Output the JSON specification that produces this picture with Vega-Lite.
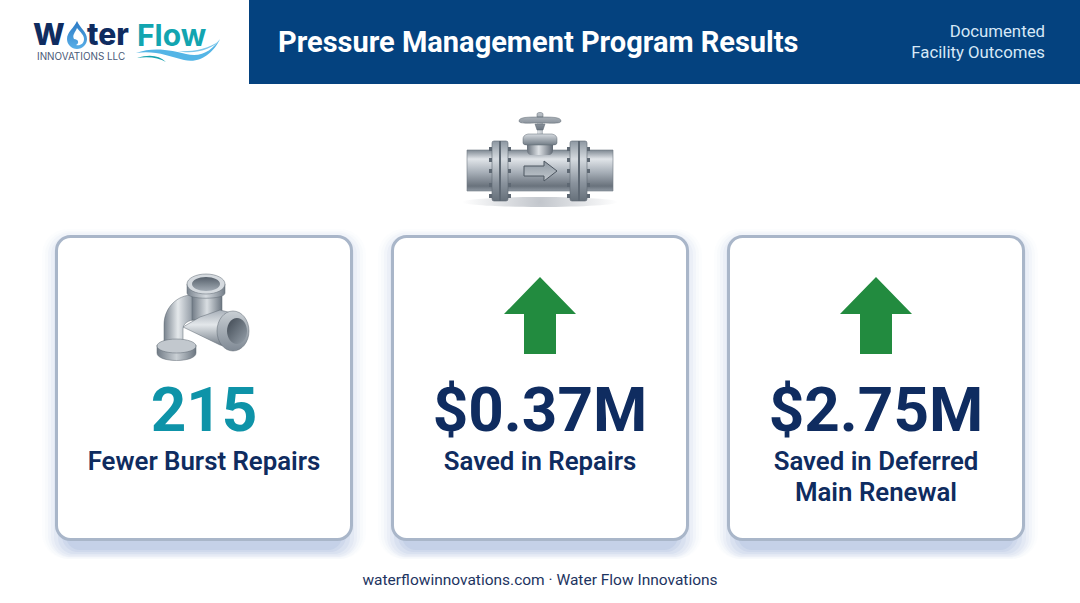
{
  "$schema": "https://vega.github.io/schema/vega-lite/v6.json",
  "width": 1080,
  "height": 603,
  "autosize": {"type": "fit", "contains": "padding"},
  "padding": 0,
  "background": "#ffffff",
  "view": {"stroke": null},
  "datasets": {
    "cards": [
      {"col": "left", "slot": "body", "label": "215", "metric": "count"},
      {"col": "centre", "slot": "body", "label": "$0.37M", "metric": "savings"},
      {"col": "right", "slot": "body", "label": "$2.75M", "metric": "savings"}
    ],
    "captions": [
      {"col": "left", "slot": "body", "label": "Fewer Burst Repairs"},
      {"col": "centre", "slot": "body", "label": "Saved in Repairs"},
      {"col": "right", "slot": "body", "label": "Saved in Deferred\nMain Renewal"}
    ],
    "arrows": [
      {"col": "centre", "slot": "icon", "direction": "up"},
      {"col": "right", "slot": "icon", "direction": "up"}
    ],
    "fitting": [{"col": "left", "slot": "icon"}],
    "valve": [{"col": "centre", "slot": "valve"}],
    "band": [{"col": "centre", "slot": "header"}],
    "logo": [{"col": "left", "slot": "header"}],
    "title": [{"col": "left", "slot": "header", "label": "Pressure Management Program Results"}],
    "note": [{"col": "right", "slot": "header", "label": "Documented\nFacility Outcomes"}],
    "footer": [{"col": "centre", "slot": "footer", "label": "waterflowinnovations.com · Water Flow Innovations"}]
  },
  "encoding": {
    "x": {"field": "col", "type": "nominal", "axis": null, "scale": {"type": "point", "domain": ["left", "centre", "right"], "range": [204, 876], "padding": 0}},
    "y": {"field": "slot", "type": "nominal", "axis": null, "scale": {"type": "point", "domain": ["header", "valve", "icon", "body", "footer"], "range": [5, 625], "padding": 0}}
  },
  "layer": [
    {"data": {"name": "band"}, "mark": {"type": "rect", "width": 831, "height": 84, "xOffset": 124.5, "yOffset": 37, "fill": "#04427F"}},

    {"data": {"name": "logo"}, "mark": {"type": "text", "text": "W", "font": "Inter", "fontWeight": 800, "fontSize": 30, "align": "left", "baseline": "alphabetic", "dx": -171, "dy": 40, "fill": "#0F2C60"}},
    {"data": {"name": "logo"}, "mark": {"type": "text", "text": "ter", "font": "Inter", "fontWeight": 800, "fontSize": 30, "align": "left", "baseline": "alphabetic", "dx": -117, "dy": 40, "fill": "#0F2C60"}},
    {"data": {"name": "logo"}, "mark": {"type": "text", "text": "Flow", "font": "Inter", "fontWeight": 700, "fontSize": 30, "align": "left", "baseline": "alphabetic", "dx": -67, "dy": 41, "fill": "#12A5B0"}},
    {"data": {"name": "logo"}, "mark": {"type": "text", "text": "INNOVATIONS LLC", "font": "Inter", "fontSize": 9.9, "align": "left", "baseline": "alphabetic", "dx": -167, "dy": 55, "fill": "#4A5A78"}},
    {"data": {"name": "logo"}, "mark": {"type": "point", "filled": true, "opacity": 1, "size": 4, "strokeWidth": 0,
      "shape": "M-127,16 C-124,23 -117,27 -117,34 A10,10 0 1,1 -137,34 C-137,27 -130,23 -127,16Z",
      "fill": {"gradient": "linear", "x1": 0, "y1": 0, "x2": 0, "y2": 1, "stops": [{"offset": 0, "color": "#2B79C4"}, {"offset": 1, "color": "#5AB0E8"}]}}},
    {"data": {"name": "logo"}, "mark": {"type": "point", "filled": true, "opacity": 1, "size": 4, "strokeWidth": 0, "fill": "#ffffff",
      "shape": "M-127,23 C-123,28 -120,30 -120,34 C-120,39 -124,41 -128,40 C-124,38 -126,34 -130,34 C-132,30 -129,28 -127,23Z"}},
    {"data": {"name": "logo"}, "mark": {"type": "point", "filled": true, "opacity": 1, "size": 4, "strokeWidth": 0, "fill": "#54B5E6",
      "shape": "M-68,48 C-50,41 -30,46 -18,49 C-2,53 8,45 16,34 C10,47 -3,59 -20,55 C-35,51 -50,45 -68,48Z"}},
    {"data": {"name": "logo"}, "mark": {"type": "point", "filled": true, "opacity": 1, "size": 4, "strokeWidth": 0, "fill": "#7CC6EA",
      "shape": "M-27,46 C-15,47 5,45 16,35 C8,44 -8,50 -27,46Z"}},
    {"data": {"name": "logo"}, "mark": {"type": "point", "filled": true, "opacity": 1, "size": 4, "strokeWidth": 0, "fill": "#18A3AE",
      "shape": "M-67,53 C-55,49 -45,50 -38,57 C-45,53 -55,51 -67,53Z"}},

    {"data": {"name": "title"}, "mark": {"type": "text", "font": "Roboto", "fontWeight": 700, "fontSize": 29, "align": "left", "baseline": "middle", "dx": 74, "dy": 38, "fill": "#ffffff"}, "encoding": {"text": {"field": "label"}}},
    {"data": {"name": "note"}, "mark": {"type": "text", "font": "Roboto", "fontWeight": 400, "fontSize": 16.8, "lineBreak": "\n", "lineHeight": 21, "align": "right", "baseline": "alphabetic", "dx": 169, "dy": 32, "fill": "#D6E8F7"}, "encoding": {"text": {"field": "label"}}},

    {"data": {"name": "valve"}, "mark": {"type": "point", "filled": true, "opacity": 1, "size": 4, "strokeWidth": 0,
      "shape": "M-78,42 A78,5 0 1,1 78,42 A78,5 0 1,1 -78,42Z",
      "fill": {"gradient": "radial", "stops": [{"offset": 0, "color": "#C2C6CC"}, {"offset": 1, "color": "#ffffff"}]}}},
    {"data": {"name": "valve"}, "mark": {"type": "point", "filled": true, "opacity": 1, "size": 4, "stroke": "#6E7883", "strokeWidth": 0.6,
      "shape": "M-73,-10 H73 V31 H-73Z",
      "fill": {"gradient": "linear", "x1": 0, "y1": 0, "x2": 0, "y2": 1, "stops": [{"offset": 0, "color": "#7D8791"}, {"offset": 0.22, "color": "#E1E5E9"}, {"offset": 0.55, "color": "#A6AEB7"}, {"offset": 0.88, "color": "#69727C"}, {"offset": 1, "color": "#8F98A2"}]}}},
    {"data": {"name": "valve"}, "mark": {"type": "point", "filled": true, "opacity": 1, "size": 4, "stroke": "#5F6873", "strokeWidth": 0.6,
      "shape": "M-48,-17 Q-48,-19 -46,-19 H-34 Q-32,-19 -32,-17 V39 Q-32,41 -34,41 H-46 Q-48,41 -48,39Z M30,-17 Q30,-19 32,-19 H45 Q47,-19 47,-17 V39 Q47,41 45,41 H32 Q30,41 30,39Z",
      "fill": {"gradient": "linear", "x1": 0, "y1": 0, "x2": 0, "y2": 1, "stops": [{"offset": 0, "color": "#8D97A1"}, {"offset": 0.3, "color": "#D5DADF"}, {"offset": 0.7, "color": "#8A939D"}, {"offset": 1, "color": "#66707A"}]}}},
    {"data": {"name": "valve"}, "mark": {"type": "point", "filled": true, "opacity": 1, "size": 4, "strokeWidth": 0, "fill": "#5E6873",
      "shape": "M-41,-19 h2 v60 h-2Z M38,-19 h2 v60 h-2Z M-51,-13 h3 v4 h-3Z M-51,-2 h3 v4 h-3Z M-51,9 h3 v4 h-3Z M-51,23 h3 v4 h-3Z M-51,34 h3 v4 h-3Z M-32,-13 h3 v4 h-3Z M-32,-2 h3 v4 h-3Z M-32,9 h3 v4 h-3Z M-32,23 h3 v4 h-3Z M-32,34 h3 v4 h-3Z M27,-13 h3 v4 h-3Z M27,-2 h3 v4 h-3Z M27,9 h3 v4 h-3Z M27,23 h3 v4 h-3Z M27,34 h3 v4 h-3Z M47,-13 h3 v4 h-3Z M47,-2 h3 v4 h-3Z M47,9 h3 v4 h-3Z M47,23 h3 v4 h-3Z M47,34 h3 v4 h-3Z"}},
    {"data": {"name": "valve"}, "mark": {"type": "point", "filled": true, "opacity": 1, "size": 4, "strokeWidth": 0,
      "shape": "M-13,-16 H13 V-10 C13,-6 10,-5 9,-5 H-9 C-10,-5 -13,-6 -13,-10Z M-3,-38 H3 V-24 H-3Z",
      "fill": {"gradient": "linear", "x1": 0, "y1": 0, "x2": 1, "y2": 0, "stops": [{"offset": 0, "color": "#69727C"}, {"offset": 0.45, "color": "#DDE1E5"}, {"offset": 1, "color": "#5F6873"}]}}},
    {"data": {"name": "valve"}, "mark": {"type": "point", "filled": true, "opacity": 1, "size": 4, "stroke": "#5F6873", "strokeWidth": 0.5,
      "shape": "M-17,-21 Q-17,-25 -12,-26 H12 Q17,-25 17,-21 V-17 Q17,-15 13,-15 H-13 Q-17,-15 -17,-17Z",
      "fill": {"gradient": "linear", "x1": 0, "y1": 0, "x2": 0, "y2": 1, "stops": [{"offset": 0, "color": "#D5DADF"}, {"offset": 1, "color": "#737D87"}]}}},
    {"data": {"name": "valve"}, "mark": {"type": "point", "filled": true, "opacity": 1, "size": 4, "stroke": "#5F6873", "strokeWidth": 0.5,
      "shape": "M-21,-39 C-21,-43 -12,-43 0,-43 C12,-43 21,-43 21,-39 C21,-36 12,-37 0,-37 C-12,-37 -21,-36 -21,-39Z M-3,-43 V-46 C-3,-48 3,-48 3,-46 V-43Z M-5,-36 H5 L3,-30 H-3Z",
      "fill": {"gradient": "linear", "x1": 0, "y1": 0, "x2": 0, "y2": 1, "stops": [{"offset": 0, "color": "#BFC5CB"}, {"offset": 1, "color": "#6C7681"}]}}},
    {"data": {"name": "valve"}, "mark": {"type": "point", "filled": true, "opacity": 1, "size": 4, "stroke": "#4D5660", "strokeWidth": 1,
      "shape": "M-16,6 H4 V1 L17,11 L4,21 V16 H-16Z",
      "fill": {"gradient": "linear", "x1": 0, "y1": 0, "x2": 0, "y2": 1, "stops": [{"offset": 0, "color": "#8E98A2"}, {"offset": 1, "color": "#C3C9CF"}]}}},

    {"data": {"name": "cards"}, "mark": {"type": "rect", "width": 324, "height": 330, "yOffset": -76, "cornerRadius": 26, "fill": "#A9BBDD", "opacity": 0.035}},
    {"data": {"name": "cards"}, "mark": {"type": "rect", "width": 318, "height": 328, "yOffset": -75, "cornerRadius": 24, "fill": "#A9BBDD", "opacity": 0.05}},
    {"data": {"name": "cards"}, "mark": {"type": "rect", "width": 312, "height": 325, "yOffset": -75, "cornerRadius": 22, "fill": "#A9BBDD", "opacity": 0.07}},
    {"data": {"name": "cards"}, "mark": {"type": "rect", "width": 306, "height": 322, "yOffset": -74, "cornerRadius": 20, "fill": "#A9BBDD", "opacity": 0.09}},
    {"data": {"name": "cards"}, "mark": {"type": "rect", "width": 300, "height": 319, "yOffset": -74, "cornerRadius": 18, "fill": "#A9BBDD", "opacity": 0.12}},
    {"data": {"name": "cards"}, "mark": {"type": "rect", "width": 292, "height": 316, "yOffset": -74, "cornerRadius": 16, "fill": "#A9BBDD", "opacity": 0.16}},
    {"data": {"name": "cards"}, "mark": {"type": "rect", "width": 284, "height": 312, "yOffset": -74, "cornerRadius": 16, "fill": "#A9BBDD", "opacity": 0.2}},
    {"data": {"name": "cards"}, "mark": {"type": "rect", "width": 276, "height": 308, "yOffset": -74, "cornerRadius": 14, "fill": "#A9BBDD", "opacity": 0.25}},
    {"data": {"name": "cards"}, "mark": {"type": "rect", "width": 295, "height": 303, "yOffset": -82, "cornerRadius": 14, "fill": "#ffffff", "stroke": "#A9B6C9", "strokeWidth": 3}},

    {"data": {"name": "fitting"}, "mark": {"type": "point", "filled": true, "opacity": 1, "size": 4, "stroke": "#5F6873", "strokeWidth": 0.5,
      "shape": "M-40,27 V10 C-40,-8 -26,-20 -12,-20 L-9,5 C-15,5 -21,8 -21,14 V27Z",
      "fill": {"gradient": "linear", "x1": 0, "y1": 0, "x2": 1, "y2": 0, "stops": [{"offset": 0, "color": "#79838E"}, {"offset": 0.45, "color": "#E4E8EB"}, {"offset": 1, "color": "#838D98"}]}}},
    {"data": {"name": "fitting"}, "mark": {"type": "point", "filled": true, "opacity": 1, "size": 4, "stroke": "#5F6873", "strokeWidth": 0.5,
      "shape": "M-12,-20 H18 V5 H-12Z",
      "fill": {"gradient": "linear", "x1": 0, "y1": 0, "x2": 1, "y2": 0, "stops": [{"offset": 0, "color": "#727C87"}, {"offset": 0.5, "color": "#D9DEE2"}, {"offset": 1, "color": "#6C7681"}]}}},
    {"data": {"name": "fitting"}, "mark": {"type": "point", "filled": true, "opacity": 1, "size": 4, "stroke": "#5F6873", "strokeWidth": 0.5,
      "shape": "M-21,12 L-4,2 L16,-5 L28,-2 L24,32 L16,30Z",
      "fill": {"gradient": "linear", "x1": 0, "y1": 0, "x2": 0, "y2": 1, "stops": [{"offset": 0, "color": "#A7AFB8"}, {"offset": 0.4, "color": "#E3E7EA"}, {"offset": 1, "color": "#6F7984"}]}}},
    {"data": {"name": "fitting"}, "mark": {"type": "point", "filled": true, "opacity": 1, "size": 4, "stroke": "#5F6873", "strokeWidth": 0.5,
      "shape": "M13,16 A16,20 0 1,1 45,16 A16,20 0 1,1 13,16Z",
      "fill": {"gradient": "linear", "x1": 0, "y1": 0, "x2": 0, "y2": 1, "stops": [{"offset": 0, "color": "#C9CFD4"}, {"offset": 1, "color": "#7F8994"}]}}},
    {"data": {"name": "fitting"}, "mark": {"type": "point", "filled": true, "opacity": 1, "size": 4, "strokeWidth": 0,
      "shape": "M23,16 A10,13 0 1,1 43,16 A10,13 0 1,1 23,16Z",
      "fill": {"gradient": "linear", "x1": 0, "y1": 0, "x2": 1, "y2": 1, "stops": [{"offset": 0, "color": "#3F4852"}, {"offset": 1, "color": "#96A0AA"}]}}},
    {"data": {"name": "fitting"}, "mark": {"type": "point", "filled": true, "opacity": 1, "size": 4, "stroke": "#5F6873", "strokeWidth": 0.5,
      "shape": "M-17,-31 V-22 C-17,-15 21,-15 21,-22 V-31Z",
      "fill": {"gradient": "linear", "x1": 0, "y1": 0, "x2": 1, "y2": 0, "stops": [{"offset": 0, "color": "#7A848F"}, {"offset": 0.5, "color": "#D5DADF"}, {"offset": 1, "color": "#747E89"}]}}},
    {"data": {"name": "fitting"}, "mark": {"type": "point", "filled": true, "opacity": 1, "size": 4, "stroke": "#5F6873", "strokeWidth": 0.5, "fill": "#D5DADF",
      "shape": "M-17,-31 A19,10 0 1,1 21,-31 A19,10 0 1,1 -17,-31Z"}},
    {"data": {"name": "fitting"}, "mark": {"type": "point", "filled": true, "opacity": 1, "size": 4, "strokeWidth": 0,
      "shape": "M-12,-31 A14,7 0 1,1 16,-31 A14,7 0 1,1 -12,-31Z",
      "fill": {"gradient": "linear", "x1": 0, "y1": 0, "x2": 0, "y2": 1, "stops": [{"offset": 0, "color": "#56606B"}, {"offset": 1, "color": "#A2ABB4"}]}}},
    {"data": {"name": "fitting"}, "mark": {"type": "point", "filled": true, "opacity": 1, "size": 4, "stroke": "#5F6873", "strokeWidth": 0.5,
      "shape": "M-47,30 V38 C-47,48 -8,48 -8,38 V30Z",
      "fill": {"gradient": "linear", "x1": 0, "y1": 0, "x2": 1, "y2": 0, "stops": [{"offset": 0, "color": "#717B86"}, {"offset": 0.5, "color": "#C9CFD4"}, {"offset": 1, "color": "#6C7681"}]}}},
    {"data": {"name": "fitting"}, "mark": {"type": "point", "filled": true, "opacity": 1, "size": 4, "stroke": "#5F6873", "strokeWidth": 0.5, "fill": "#C2C8CE",
      "shape": "M-47,31 A19.5,7 0 1,1 -8,31 A19.5,7 0 1,1 -47,31Z"}},

    {"data": {"name": "arrows"}, "mark": {"type": "point", "filled": true, "opacity": 1, "size": 4, "strokeWidth": 0, "fill": "#228B3F",
      "shape": "M0,-38 L36,-1 H16 V39 H-16 V-1 H-36Z"}},

    {"data": {"name": "cards"}, "mark": {"type": "text", "font": "Roboto", "fontWeight": 700, "fontSize": 62, "align": "center", "baseline": "alphabetic", "dy": -39},
      "encoding": {"text": {"field": "label"}, "color": {"field": "metric", "type": "nominal", "legend": null, "scale": {"domain": ["count", "savings"], "range": ["#0E93A8", "#0F2C60"]}}}},
    {"data": {"name": "captions"}, "mark": {"type": "text", "font": "Roboto", "fontWeight": 600, "fontSize": 25.8, "lineBreak": "\n", "lineHeight": 31, "align": "center", "baseline": "alphabetic", "fill": "#0F2C60"}, "encoding": {"text": {"field": "label"}}},
    {"data": {"name": "footer"}, "mark": {"type": "text", "font": "Roboto", "fontSize": 15.5, "align": "center", "baseline": "middle", "dy": -45, "fill": "#1D3461"}, "encoding": {"text": {"field": "label"}}}
  ]
}
